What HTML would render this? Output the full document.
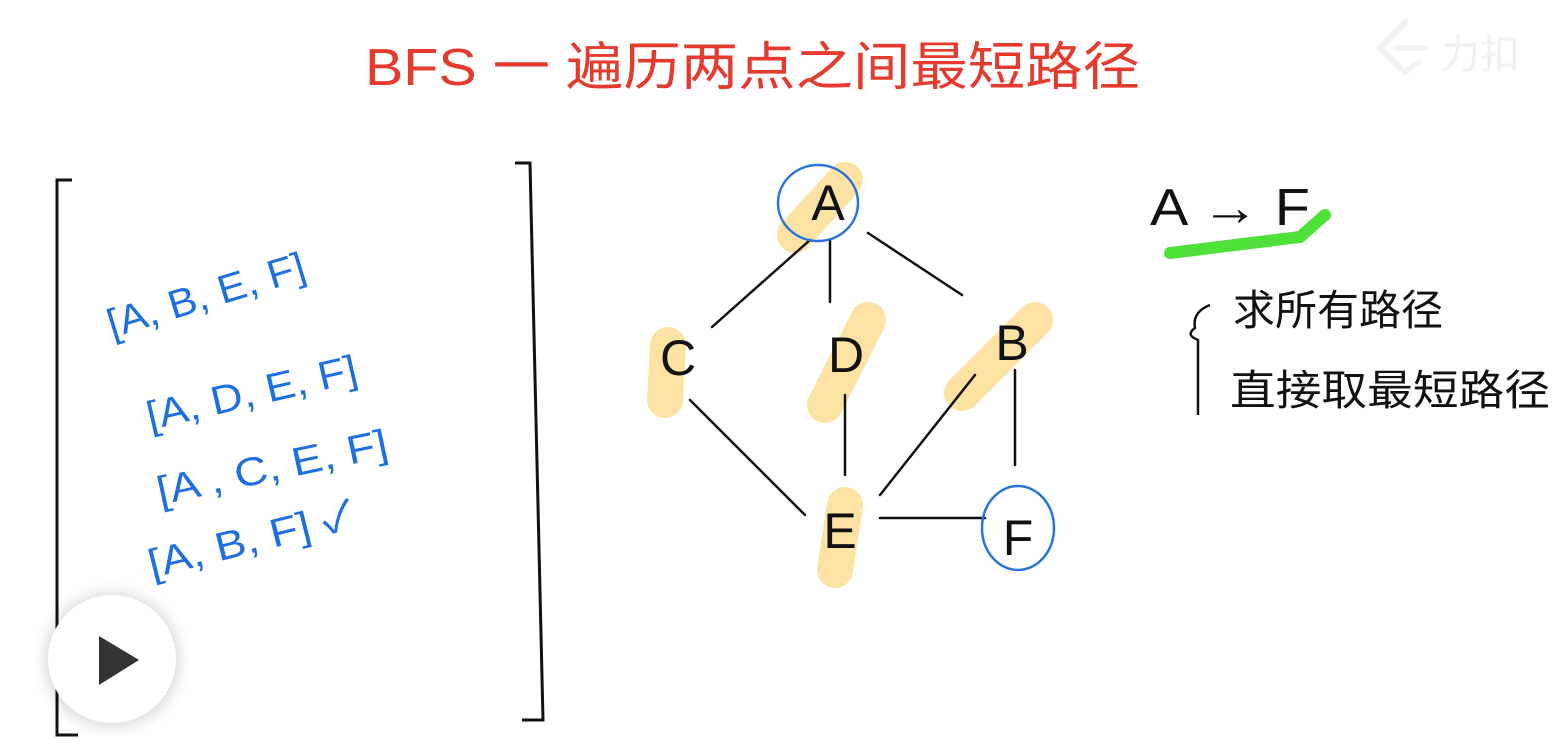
<!DOCTYPE html>
<html><head><meta charset="utf-8"><style>
html,body{margin:0;padding:0;background:#fff;width:1562px;height:740px;overflow:hidden}
svg{display:block}
.t{font-family:"Liberation Sans","Noto Sans CJK SC",sans-serif}
</style></head><body>
<svg width="1562" height="740" viewBox="0 0 1562 740" xmlns="http://www.w3.org/2000/svg">
<defs><filter id="sh" x="-50%" y="-50%" width="200%" height="200%"><feGaussianBlur stdDeviation="8"/></filter></defs>
<text class="t" x="365" y="85" font-size="52" fill="#e53a2e" textLength="775" lengthAdjust="spacingAndGlyphs">BFS 一 遍历两点之间最短路径</text>
<g fill="none" stroke="#f2f2f2" stroke-width="6" stroke-linecap="round">
<path d="M1405 22 L1380 48 L1405 72 L1418 62"/><path d="M1398 48 L1425 48"/>
</g>
<text class="t" x="1440" y="68" font-size="40" fill="#f0f0f0">力扣</text>
<g fill="none" stroke="#111" stroke-width="3">
<path d="M72 180 L57 180 L57 735 L78 735"/>
<path d="M515 163 L530 163 L543 720 L522 720"/>
</g>
<g stroke="#fde3a3" stroke-width="36" stroke-linecap="round" fill="none">
<path d="M845 180 L795 235"/><path d="M668 345 L665 400"/>
<path d="M868 320 L825 405"/><path d="M1035 320 L962 393"/>
<path d="M845 505 L835 570"/>
</g>
<g stroke="#111" stroke-width="2.5" fill="none" stroke-linecap="round">
<path d="M810 240 L712 327"/><path d="M830 240 L830 302"/><path d="M868 233 L962 295"/>
<path d="M690 400 L805 515"/><path d="M845 395 L845 475"/><path d="M975 375 L880 495"/>
<path d="M1015 370 L1015 465"/><path d="M880 518 L985 518"/>
</g>
<g class="t" font-size="50" fill="#111" text-anchor="middle">
<text x="828" y="220">A</text><text x="678" y="375">C</text><text x="846" y="372">D</text>
<text x="1012" y="360">B</text><text x="840" y="548">E</text><text x="1018" y="555">F</text>
</g>
<g fill="none" stroke="#2a73d9" stroke-width="2.5">
<ellipse cx="818" cy="203" rx="40" ry="38"/><ellipse cx="1018" cy="528" rx="36" ry="42"/>
</g>
<g class="t" font-size="40" fill="#1e6fe0">
<text transform="translate(112,338) rotate(-17)" textLength="205" lengthAdjust="spacingAndGlyphs">[A, B, E, F]</text>
<text transform="translate(150,430) rotate(-13)" textLength="215" lengthAdjust="spacingAndGlyphs">[A,  D,  E, F]</text>
<text transform="translate(160,505) rotate(-12)" textLength="235" lengthAdjust="spacingAndGlyphs">[A ,  C, E, F]</text>
<text transform="translate(152,578) rotate(-14)" textLength="210" lengthAdjust="spacingAndGlyphs">[A, B, F]  ✓</text>
</g>
<text class="t" x="1150" y="225" font-size="52" fill="#111" textLength="160" lengthAdjust="spacingAndGlyphs">A  →  F</text>
<path d="M1170 253 L1300 237 L1325 215" stroke="#4fe03a" stroke-width="12" stroke-linecap="round" fill="none"/>
<path d="M1210 305 Q1192 312 1195 328 Q1185 335 1198 340 L1198 415" stroke="#111" stroke-width="2.5" fill="none"/>
<text class="t" x="1233" y="325" font-size="42" fill="#111">求所有路径</text>
<text class="t" x="1230" y="405" font-size="42" fill="#111" textLength="320" lengthAdjust="spacingAndGlyphs">直接取最短路径</text>
<circle cx="112" cy="660" r="66" fill="#000" opacity="0.18" filter="url(#sh)"/>
<circle cx="112" cy="659" r="64" fill="#fff"/>
<path d="M99 636 L139 660 L99 685 Z" fill="#333"/>
</svg>
</body></html>
